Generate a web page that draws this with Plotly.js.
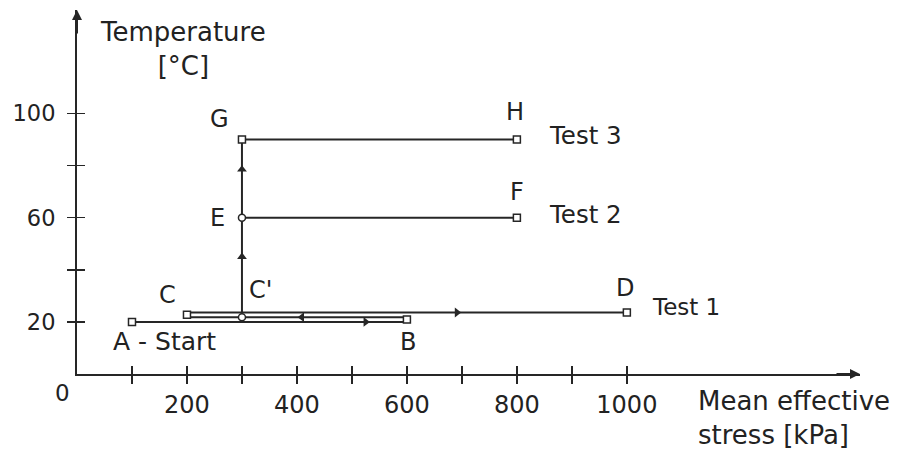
<!DOCTYPE html>
<html>
<head>
<meta charset="utf-8">
<script src="https://cdn.plot.ly/plotly-3.0.1.min.js"></script>
<style>html,body{margin:0;padding:0;background:#fff;}#chart{width:901px;height:454px;}</style>
</head>
<body>
<div id="chart"></div>
<script>
// Test 1 path: A -> B -> C -> D (mean effective stress kPa, temperature °C)
const test1Stress = [100, 600, 600, 200, 200, 1000];
const test1Temp   = [20, 20, 21.8, 21.8, 23.6, 23.6];
// heating path C' -> E -> G
const heatStress = [300, 300, 300];
const heatTemp   = [21.8, 60, 90];
// Test 2: E -> F, Test 3: G -> H
const test2Stress = [300, 800];
const test2Temp   = [60, 60];
const test3Stress = [300, 800];
const test3Temp   = [90, 90];
// state points
const pointNames  = ['A', 'B', 'C', "C'", 'D', 'E', 'F', 'G', 'H'];
const pointStress = [100, 600, 200, 300, 1000, 300, 800, 300, 800];
const pointTemp   = [20, 20.9, 22.7, 21.8, 23.6, 60, 60, 90, 90];
const pointSymbol = ['square', 'square', 'square', 'circle', 'square', 'circle', 'square', 'square', 'square'];
// direction arrows
const arrowStress = [525, 409, 691, 300, 300];
const arrowTemp   = [20, 21.8, 23.6, 45, 78.5];
const arrowSymbol = ['triangle-right', 'triangle-left', 'triangle-right', 'triangle-up', 'triangle-up'];
// tick labels
const xTickVals = [100, 200, 300, 400, 500, 600, 700, 800, 900, 1000];
const xTickText = ['', '200', '', '400', '', '600', '', '800', '', '1000'];
const yTickVals = [20, 40, 60, 80, 100];
const yTickText = ['20', '', '60', '', '100'];
// label texts
const labelTexts = ['G', 'H', 'Test 3', 'E', 'F', 'Test 2', "C'", 'C', 'D', 'Test 1', 'A - Start', 'B'];

const ink = '#262626';
const FONT = 'DejaVu Sans, sans-serif';

const lineStyle = {color: ink, width: 2};
const traces = [
  {x: test1Stress, y: test1Temp, mode: 'lines', line: lineStyle, hoverinfo: 'skip'},
  {x: heatStress, y: heatTemp, mode: 'lines', line: lineStyle, hoverinfo: 'skip'},
  {x: test2Stress, y: test2Temp, mode: 'lines', line: lineStyle, hoverinfo: 'skip'},
  {x: test3Stress, y: test3Temp, mode: 'lines', line: lineStyle, hoverinfo: 'skip'},
  {x: arrowStress, y: arrowTemp, mode: 'markers', hoverinfo: 'skip',
   marker: {symbol: arrowSymbol, size: 8.5, color: ink, line: {width: 0}}},
  {x: pointStress, y: pointTemp, text: pointNames, mode: 'markers', hoverinfo: 'text',
   marker: {symbol: pointSymbol, size: 7, color: '#ffffff', line: {color: ink, width: 1.5}}},
  {x: [], y: [], xaxis: 'x2', yaxis: 'y2', mode: 'markers', hoverinfo: 'skip'}
];

const xRange = [0, 1424];
const yRange = [0, 139.7];

const labelPos = [
  [260, 97.9], [796, 100.6], [924, 91.4],
  [256, 59.9], [800, 69.9], [924, 61.4],
  [333, 32.3], [165, 30.4], [996, 33], [1107, 25.7],
  [160, 12.3], [602, 12.3]
];
const labelSize = [24, 24, 24.5, 24, 24, 24.5, 24, 24, 24, 23, 25, 24];

const annotations = labelTexts.map((t, i) => ({
  x: labelPos[i][0], y: labelPos[i][1], xref: 'x', yref: 'y', text: t, showarrow: false,
  xanchor: 'center', yanchor: 'middle', font: {family: FONT, size: labelSize[i], color: '#222'}
}));

annotations.push(
  {x: 0, y: 0, xref: 'x', yref: 'y', text: '0', showarrow: false, xanchor: 'right', yanchor: 'top',
   xshift: -5, yshift: -4, font: {family: FONT, size: 23, color: '#222'}},
  {x: 0.135, y: 0.985, xref: 'paper', yref: 'paper', text: 'Temperature<br>[°C]', showarrow: false,
   xanchor: 'center', yanchor: 'top', align: 'center', font: {family: FONT, size: 26, color: '#222'}},
  {x: 0.79, y: 0, xref: 'paper', yref: 'paper', text: 'Mean effective<br>stress [kPa]', showarrow: false,
   xanchor: 'left', yanchor: 'top', align: 'left', yshift: -10, font: {family: FONT, size: 26, color: '#222'}},
  {x: 1, y: 0, xref: 'paper', yref: 'paper', ax: -25, ay: 0, text: '', showarrow: true,
   arrowhead: 2, arrowsize: 1, arrowwidth: 2, arrowcolor: ink},
  {x: 0, y: 1, xref: 'paper', yref: 'paper', ax: 0, ay: 25, text: '', showarrow: true,
   arrowhead: 2, arrowsize: 1, arrowwidth: 2, arrowcolor: ink}
);

const layout = {
  width: 901, height: 454,
  margin: {l: 77, r: 41, t: 10, b: 80},
  paper_bgcolor: '#fff', plot_bgcolor: '#fff',
  showlegend: false,
  font: {family: FONT, color: '#222'},
  xaxis: {range: xRange, showgrid: false, zeroline: false, showline: true, linecolor: ink, linewidth: 2,
          ticks: 'outside', ticklen: 8, tickwidth: 1.5, tickcolor: ink,
          tickmode: 'array', tickvals: xTickVals, ticktext: xTickText,
          tickfont: {family: FONT, size: 24, color: '#222'}, fixedrange: true},
  yaxis: {range: yRange, showgrid: false, zeroline: false, showline: true, linecolor: ink, linewidth: 2,
          ticks: 'outside', ticklen: 8, tickwidth: 1.5, tickcolor: ink, ticklabelstandoff: 7,
          tickmode: 'array', tickvals: yTickVals, ticktext: yTickText,
          tickfont: {family: FONT, size: 22.5, color: '#222'}, fixedrange: true},
  xaxis2: {range: xRange, overlaying: 'x', side: 'bottom', showgrid: false, zeroline: false, showline: false,
           ticks: 'inside', ticklen: 8, tickwidth: 1.5, tickcolor: ink, tickmode: 'array', tickvals: xTickVals,
           showticklabels: false, fixedrange: true},
  yaxis2: {range: yRange, overlaying: 'y', side: 'left', showgrid: false, zeroline: false, showline: false,
           ticks: 'inside', ticklen: 8, tickwidth: 1.5, tickcolor: ink, tickmode: 'array', tickvals: yTickVals,
           showticklabels: false, fixedrange: true},
  annotations: annotations
};

Plotly.newPlot('chart', traces, layout, {displayModeBar: false, staticPlot: true});
</script>
</body>
</html>
